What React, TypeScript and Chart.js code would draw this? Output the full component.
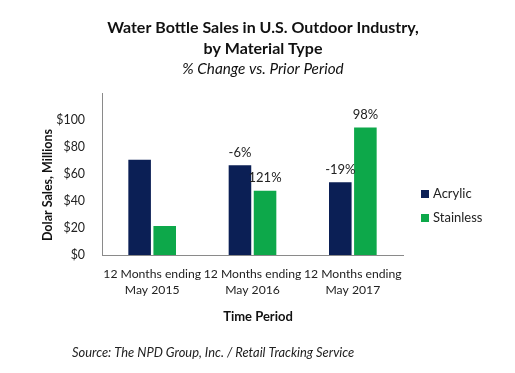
import React, { useEffect, useRef } from "react";
import { Chart, registerables } from "chart.js";

Chart.register(...registerables);

const categories: string[][] = [
  ["12 Months ending", "May 2015"],
  ["12 Months ending", "May 2016"],
  ["12 Months ending", "May 2017"],
];
const acrylicValues = [70.6, 66.4, 53.8];
const stainlessValues = [21.5, 47.6, 94.4];
const acrylicLabels = ["", "-6%", "-19%"];
const stainlessLabels = ["", "121%", "98%"];
const yTicks = [0, 20, 40, 60, 80, 100];

const FONT = "Lato, 'Noto Sans', sans-serif";

const decorPlugin = {
  id: "decor",
  afterDatasetsDraw(chart: any) {
    const ctx = chart.ctx;
    ctx.save();
    const labelSets = [acrylicLabels, stainlessLabels];
    chart.data.datasets.forEach((ds: any, di: number) => {
      const meta = chart.getDatasetMeta(di);
      meta.data.forEach((bar: any, i: number) => {
        const t = labelSets[di][i];
        if (!t) return;
        ctx.font = `13px ${FONT}`;
        ctx.fillStyle = "#222";
        ctx.textAlign = "center";
        ctx.textBaseline = "bottom";
        ctx.fillText(t, bar.x, bar.y - 6);
      });
    });
    ctx.fillStyle = "#111";
    ctx.textAlign = "center";
    ctx.textBaseline = "middle";
    ctx.font = `bold 16px ${FONT}`;
    ctx.fillText("Water Bottle Sales in U.S. Outdoor Industry,", 263, 28);
    ctx.fillText("by Material Type", 263, 49);
    ctx.font = `italic 15.3px ${FONT}`;
    ctx.fillText("% Change vs. Prior Period", 263, 69);
    // axis titles
    ctx.font = `bold 13px ${FONT}`;
    ctx.fillText("Time Period", 258, 317);
    ctx.save();
    ctx.translate(48, 185);
    ctx.rotate(-Math.PI / 2);
    ctx.font = `bold 12.5px ${FONT}`;
    ctx.fillText("Dolar Sales, Millions", 0, 0);
    ctx.restore();
    // legend
    chart.data.datasets.forEach((ds: any, di: number) => {
      const y = 194 + di * 24;
      ctx.fillStyle = ds.backgroundColor;
      ctx.fillRect(421, y - 4, 8, 8);
      ctx.fillStyle = "#222";
      ctx.textAlign = "left";
      ctx.font = `13px ${FONT}`;
      ctx.fillText(ds.label, 433, y);
    });
    ctx.font = `italic 12.9px ${FONT}`;
    ctx.fillStyle = "#222";
    ctx.textAlign = "left";
    ctx.fillText("Source: The NPD Group, Inc. / Retail Tracking Service", 72, 353);
    ctx.restore();
  },
};

export default function App() {
  const ref = useRef<HTMLCanvasElement>(null);
  useEffect(() => {
    document.body.style.margin = "0";
    const chart = new Chart(ref.current!, {
      type: "bar",
      data: {
        labels: categories as any,
        datasets: [
          {
            label: "Acrylic",
            data: acrylicValues,
            backgroundColor: "#0b1f55",
            barPercentage: 0.9,
            categoryPercentage: 0.5,
          },
          {
            label: "Stainless",
            data: stainlessValues,
            backgroundColor: "#0da84a",
            barPercentage: 0.9,
            categoryPercentage: 0.5,
          },
        ],
      },
      options: {
        animation: false,
        responsive: false,
        maintainAspectRatio: false,
        layout: { padding: { top: 93, right: 112, bottom: 0, left: 0 } },
        plugins: {
          legend: { display: false },
          title: { display: false },
          tooltip: { enabled: false },
        },
        scales: {
          x: {
            grid: { display: false },
            border: { display: true, color: "#8a8a8a", width: 1 },
            ticks: {
              color: "#222",
              font: { family: FONT, size: 12.2, lineHeight: 1.3 },
              padding: 3,
              maxRotation: 0,
              autoSkip: false,
            },
            afterFit(scale: any) {
              scale.height = 118;
            },
          },
          y: {
            min: 0,
            max: 120,
            grid: { display: false },
            border: { display: true, color: "#8a8a8a", width: 1 },
            afterBuildTicks(scale: any) {
              scale.ticks = [...yTicks, 120].map((v) => ({ value: v }));
            },
            ticks: {
              color: "#222",
              font: { family: FONT, size: 12.4 },
              padding: 9,
              callback: (v: any) => (v === 120 ? "" : "$" + v),
            },
            afterFit(scale: any) {
              scale.width = 102;
            },
          },
        },
      },
      plugins: [decorPlugin],
    });
    return () => chart.destroy();
  }, []);
  return (
    <div style={{ position: "relative", width: 515, height: 373, background: "#fff" }}>
      <canvas ref={ref} width={515} height={373} style={{ width: 515, height: 373 }} />
    </div>
  );
}
